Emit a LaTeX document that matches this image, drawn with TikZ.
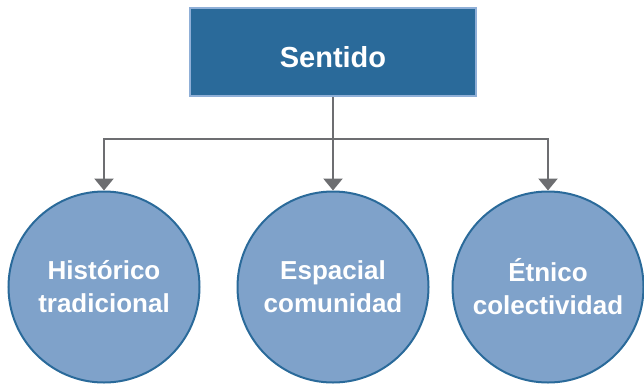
\documentclass[tikz,border=0pt]{standalone}
\usepackage{fontspec}
\setmainfont{Liberation Sans}
\usetikzlibrary{arrows.meta}
\definecolor{boxblue}{HTML}{2A6A9A}
\definecolor{boxedge}{HTML}{8FAFD7}
\definecolor{ballblue}{HTML}{7FA2CA}
\definecolor{linkgray}{HTML}{6D6E71}

\begin{document}
\begin{tikzpicture}[x=1bp,y=-1bp,
		topbox/.style={draw=boxedge, fill=boxblue, line width=2bp, minimum width=286bp, minimum height=88bp, text height=31bp, text=white, font=\bfseries\fontsize{29bp}{34bp}\selectfont},
		ball/.style={circle, draw=boxblue, fill=ballblue, line width=2bp, minimum size=191bp, inner sep=0pt, text=white, align=center, font=\bfseries\fontsize{26bp}{33bp}\selectfont},
		link/.style={draw=linkgray, line width=2.5bp}]
			\useasboundingbox (0,0) rectangle (644,386);
			\node[topbox] (sentido) at (333,52) {Sentido};
			\coordinate (hub) at (333,139);
			\node[ball] (hist) at (104,287) {Histórico\\tradicional};
			\node[ball] (esp) at (333,287) {Espacial\\comunidad};
			\node[ball] (etn) at (548,287) {Étnico\\colectividad};
			\draw[link] (sentido.south) -- (hub);
			\foreach \n in {hist,esp,etn}
			\draw[link,-{Triangle[width=19bp,length=12bp]}] (hub) -| (\n.north);
		\end{tikzpicture}
\end{document}
